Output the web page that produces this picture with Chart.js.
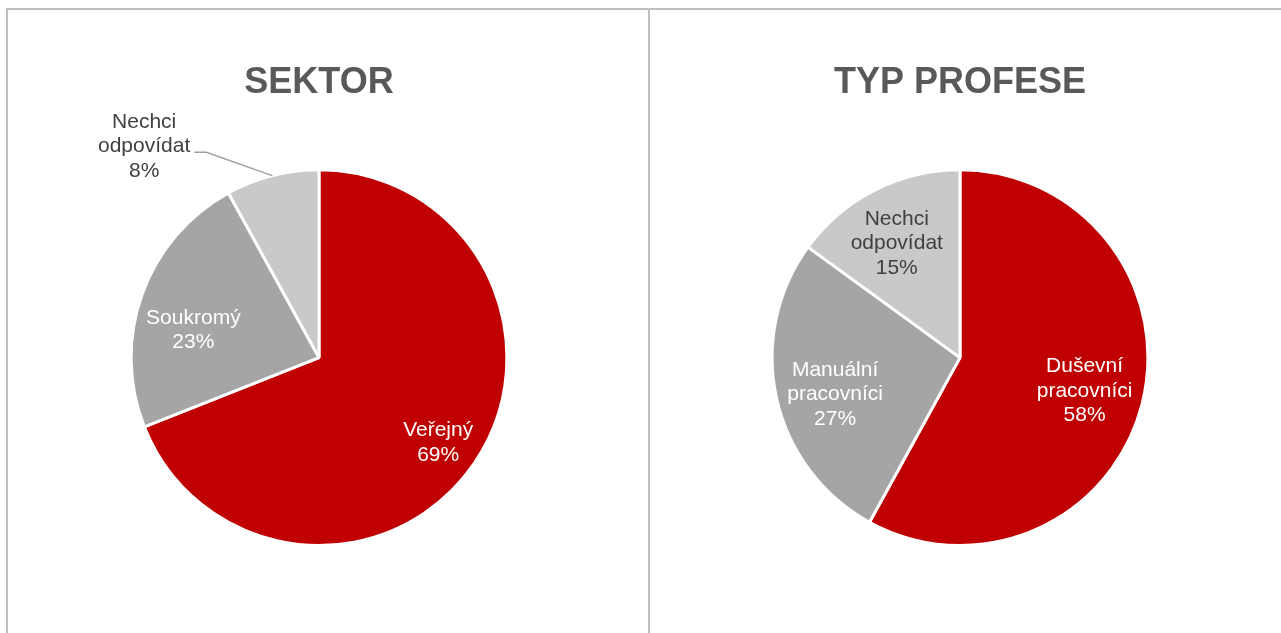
<!DOCTYPE html>
<html>
<head>
<meta charset="utf-8">
<script src="https://cdn.jsdelivr.net/npm/chart.js@4.4.1/dist/chart.umd.min.js"></script>
<style>
  html, body { margin: 0; padding: 0; background: #ffffff; }
  body { width: 1281px; height: 633px; position: relative; overflow: hidden; font-family: "Liberation Sans", Arial, sans-serif; }
  .panel { position: absolute; top: 8px; height: 640px; border-top: 2px solid #bfbfbf; border-left: 2px solid #bfbfbf; box-sizing: border-box; }
  #panelA { left: 6px; width: 642px; }
  #panelB { left: 648px; width: 660px; }
  .box { position: absolute; top: 10px; height: 623px; }
  #boxA { left: 8px; width: 622px; }
  #boxB { left: 650px; width: 620px; }
</style>
</head>
<body>
<div class="panel" id="panelA"></div>
<div class="panel" id="panelB"></div>
<div class="box" id="boxA"><canvas id="sektor"></canvas></div>
<div class="box" id="boxB"><canvas id="profese"></canvas></div>
<script>
// Sektor
const sektorTitle = 'SEKTOR';
const sektorCategories = [['Veřejný'], ['Soukromý'], ['Nechci', 'odpovídat']];
const sektorValues = [69, 23, 8];

// Typ profese
const profeseTitle = 'TYP PROFESE';
const profeseCategories = [['Duševní', 'pracovníci'], ['Manuální', 'pracovníci'], ['Nechci', 'odpovídat']];
const profeseValues = [58, 27, 15];

const sliceColors = ['#c00000', '#a5a5a5', '#c9c9c9'];
const labelColors = ['#ffffff', '#ffffff', '#404040'];

// label placement per slice: radius fraction, angular nudge (deg), leader line
const sektorLabelPos = [
  { r: 0.78, da: 1.4 },
  { r: 0.684, da: -7.6 },
  { r: 1.46, da: -25.2, leader: true }
];
const profeseLabelPos = [
  { r: 0.686, da: 0.5 },
  { r: 0.693, da: -3.8 },
  { r: 0.694, da: -2.0 }
];

const FONT = '"Liberation Sans", Arial, sans-serif';

const sliceLabels = {
  id: 'sliceLabels',
  afterDatasetsDraw(chart, args, opts) {
    const ctx = chart.ctx;
    const meta = chart.getDatasetMeta(0);
    const data = chart.data.datasets[0].data;
    const total = data.reduce((a, b) => a + b, 0);
    ctx.save();
    ctx.font = '21px ' + FONT;
    ctx.textAlign = 'center';
    ctx.textBaseline = 'middle';
    const lh = 24.5;
    meta.data.forEach((arc, i) => {
      const p = opts.pos[i];
      const mid = (arc.startAngle + arc.endAngle) / 2;
      const ang = mid + p.da * Math.PI / 180;
      const cx = arc.x + Math.cos(ang) * arc.outerRadius * p.r;
      const cy = arc.y + Math.sin(ang) * arc.outerRadius * p.r;
      const pct = Math.round(data[i] / total * 100) + '%';
      const lines = chart.data.labels[i].concat([pct]);
      const top = cy - (lines.length - 1) * lh / 2;
      ctx.fillStyle = labelColors[i];
      let maxW = 0;
      lines.forEach((t, k) => {
        ctx.fillText(t, cx, top + k * lh);
        maxW = Math.max(maxW, ctx.measureText(t).width);
      });
      if (p.leader) {
        const x0 = cx + maxW / 2 + 4;
        const y0 = cy + 6;
        const ex = arc.x + Math.cos(mid) * arc.outerRadius;
        const ey = arc.y + Math.sin(mid) * arc.outerRadius;
        ctx.strokeStyle = '#a0a0a0';
        ctx.lineWidth = 1.5;
        ctx.beginPath();
        ctx.moveTo(x0, y0);
        ctx.lineTo(x0 + 12, y0);
        ctx.lineTo(ex, ey);
        ctx.stroke();
      }
    });
    ctx.restore();
  }
};

function makePie(id, title, categories, values, pos) {
  return new Chart(document.getElementById(id), {
    type: 'pie',
    data: {
      labels: categories,
      datasets: [{
        data: values,
        backgroundColor: sliceColors,
        borderColor: '#ffffff',
        borderWidth: 3,
        hoverOffset: 0
      }]
    },
    options: {
      responsive: true,
      maintainAspectRatio: false,
      animation: false,
      layout: { padding: { top: 0, bottom: 86, left: 0, right: 0 } },
      plugins: {
        legend: { display: false },
        tooltip: { enabled: false },
        title: {
          display: true,
          text: title,
          color: '#595959',
          font: { family: FONT, size: 36, weight: 'bold', lineHeight: 1.2 },
          padding: { top: 51, bottom: 64 }
        },
        sliceLabels: { pos: pos }
      }
    },
    plugins: [sliceLabels]
  });
}

makePie('sektor', sektorTitle, sektorCategories, sektorValues, sektorLabelPos);
makePie('profese', profeseTitle, profeseCategories, profeseValues, profeseLabelPos);
</script>
</body>
</html>
